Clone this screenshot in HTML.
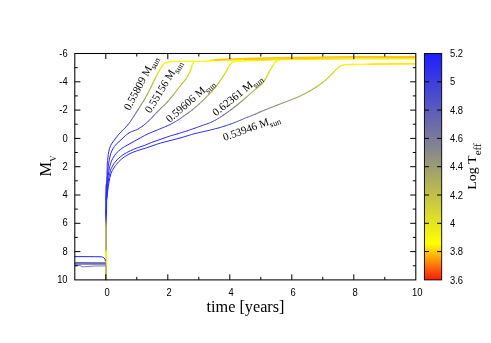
<!DOCTYPE html>
<html><head><meta charset="utf-8"><title>Light curves</title>
<style>
html,body{margin:0;padding:0;background:#fff;}
body{width:491px;height:343px;overflow:hidden;position:relative;font-family:"Liberation Sans",sans-serif;}
</style></head><body>
<svg width="491" height="343" viewBox="0 0 491 343" style="position:absolute;left:0;top:0;will-change:transform">
<defs><linearGradient id="cb" x1="0" y1="1" x2="0" y2="0">
<stop offset="0.0000" stop-color="rgb(252,25,12)"/>
<stop offset="0.1594" stop-color="rgb(255,255,0)"/>
<stop offset="0.5625" stop-color="rgb(138,138,138)"/>
<stop offset="1.0000" stop-color="rgb(30,30,255)"/>
</linearGradient></defs>
<g fill="none" stroke-width="1.90" stroke-linecap="round" stroke-linejoin="miter"><polyline points="106.1,279.5 106.1,270.4" stroke="rgb(176,176,93)" stroke-width="1.90"/><polyline points="106.1,270.4 106.1,265.8" stroke="rgb(183,183,85)" stroke-width="1.90"/><polyline points="106.1,265.8 106.1,264.3" stroke="rgb(198,198,67)" stroke-width="1.90"/><polyline points="106.1,264.3 106.1,250.5" stroke="rgb(236,236,22)" stroke-width="1.90"/><polyline points="106.1,250.5 106.1,249.0" stroke="rgb(206,206,58)" stroke-width="1.90"/><polyline points="106.1,249.0 106.1,226.2" stroke="rgb(168,168,102)" stroke-width="1.90"/><polyline points="106.1,226.2 106.1,224.6" stroke="rgb(161,161,111)" stroke-width="1.90"/><polyline points="106.1,224.6 106.1,223.1" stroke="rgb(153,153,120)" stroke-width="1.90"/><polyline points="106.1,223.1 106.1,221.6" stroke="rgb(138,138,138)" stroke-width="1.90"/><polyline points="106.1,221.6 106.1,220.1" stroke="rgb(119,119,159)" stroke-width="1.90"/><polyline points="106.1,220.1 106.1,218.5" stroke="rgb(106,106,173)" stroke-width="1.90"/><polyline points="106.1,218.5 106.1,217.0" stroke="rgb(93,93,187)" stroke-width="1.90"/><polyline points="106.1,217.0 106.1,215.5" stroke="rgb(80,80,201)" stroke-width="1.90"/><polyline points="106.1,215.5 106.1,214.0" stroke="rgb(67,67,215)" stroke-width="1.90"/><polyline points="106.1,214.0 106.1,212.4" stroke="rgb(54,54,229)" stroke-width="1.90"/><polyline points="106.1,212.4 106.1,210.9" stroke="rgb(48,48,235)" stroke-width="1.90"/><polyline points="106.1,210.9 106.2,197.2 106.5,185.0" stroke="rgb(42,42,242)" stroke-width="1.90"/></g>
<g fill="none" stroke-width="1.00" stroke-linecap="round" stroke-linejoin="miter"><polyline points="75.0,256.6 94.7,256.7 101.2,256.8 102.8,257.1 104.2,258.0 105.0,259.3 105.3,261.0" stroke="rgb(35,35,249)" stroke-width="1.00"/></g>
<g fill="none" stroke-width="1.05" stroke-linecap="round" stroke-linejoin="miter"><polyline points="75.0,262.5 105.5,262.7" stroke="rgb(99,99,180)" stroke-width="1.05"/></g>
<g fill="none" stroke-width="1.05" stroke-linecap="round" stroke-linejoin="miter"><polyline points="75.0,263.3 105.5,263.5" stroke="rgb(106,106,173)" stroke-width="1.05"/></g>
<g fill="none" stroke-width="1.05" stroke-linecap="round" stroke-linejoin="miter"><polyline points="75.0,264.1 105.5,264.3" stroke="rgb(106,106,173)" stroke-width="1.05"/></g>
<g fill="none" stroke-width="0.85" stroke-linecap="round" stroke-linejoin="miter"><polyline points="75.0,265.3 79.9,265.5 82.8,266.9 84.4,266.8 94.1,266.0 105.5,265.9" stroke="rgb(93,93,187)" stroke-width="0.85"/></g>
<g fill="none" stroke-width="1.00" stroke-linecap="round" stroke-linejoin="miter"><polyline points="106.3,200.0 106.5,187.9 107.0,175.7 107.2,165.1 107.6,160.5 108.3,154.5 108.8,151.5 109.5,148.6 110.6,145.7 112.0,143.1 115.7,138.2" stroke="rgb(42,42,242)" stroke-width="1.00"/><polyline points="115.7,138.2 119.5,133.5" stroke="rgb(48,48,235)" stroke-width="1.00"/><polyline points="119.5,133.5 122.7,130.2" stroke="rgb(54,54,229)" stroke-width="1.00"/><polyline points="122.7,130.2 125.9,127.0" stroke="rgb(61,61,222)" stroke-width="1.00"/><polyline points="125.9,127.0 126.9,125.8" stroke="rgb(67,67,215)" stroke-width="1.00"/><polyline points="126.9,125.8 127.9,124.7" stroke="rgb(74,74,208)" stroke-width="1.00"/><polyline points="127.9,124.7 129.8,122.3" stroke="rgb(80,80,201)" stroke-width="1.00"/><polyline points="129.8,122.3 130.7,121.1" stroke="rgb(87,87,194)" stroke-width="1.00"/><polyline points="130.7,121.1 131.5,119.8" stroke="rgb(93,93,187)" stroke-width="1.00"/><polyline points="131.5,119.8 133.2,117.3" stroke="rgb(99,99,180)" stroke-width="1.00"/><polyline points="133.2,117.3 134.0,116.0" stroke="rgb(106,106,173)" stroke-width="1.00"/><polyline points="134.0,116.0 134.8,114.7" stroke="rgb(112,112,166)" stroke-width="1.01"/><polyline points="134.8,114.7 135.6,113.4" stroke="rgb(119,119,159)" stroke-width="1.03"/><polyline points="135.6,113.4 136.4,112.1" stroke="rgb(125,125,152)" stroke-width="1.05"/><polyline points="136.4,112.1 138.1,109.6" stroke="rgb(132,132,145)" stroke-width="1.07"/><polyline points="138.1,109.6 139.7,107.0" stroke="rgb(138,138,138)" stroke-width="1.09"/><polyline points="139.7,107.0 141.3,104.5" stroke="rgb(146,146,129)" stroke-width="1.10"/><polyline points="141.3,104.5 143.8,100.6" stroke="rgb(153,153,120)" stroke-width="1.12"/><polyline points="143.8,100.6 145.3,98.0" stroke="rgb(161,161,111)" stroke-width="1.14"/><polyline points="145.3,98.0 147.5,94.0" stroke="rgb(168,168,102)" stroke-width="1.16"/><polyline points="147.5,94.0 149.5,89.9" stroke="rgb(176,176,93)" stroke-width="1.17"/><polyline points="149.5,89.9 150.9,87.2" stroke="rgb(183,183,85)" stroke-width="1.19"/><polyline points="150.9,87.2 152.9,83.1" stroke="rgb(191,191,76)" stroke-width="1.21"/><polyline points="152.9,83.1 154.9,79.0" stroke="rgb(198,198,67)" stroke-width="1.23"/><polyline points="154.9,79.0 156.3,76.3" stroke="rgb(206,206,58)" stroke-width="1.25"/><polyline points="156.3,76.3 158.4,72.3" stroke="rgb(214,214,49)" stroke-width="1.26"/><polyline points="158.4,72.3 159.9,69.6" stroke="rgb(221,221,40)" stroke-width="1.28"/><polyline points="159.9,69.6 161.5,67.0" stroke="rgb(229,229,31)" stroke-width="1.30"/><polyline points="161.5,67.0 162.4,65.7 163.4,64.6" stroke="rgb(236,236,22)" stroke-width="1.30"/><polyline points="163.4,64.6 164.5,63.6 165.8,62.8" stroke="rgb(244,244,13)" stroke-width="1.30"/><polyline points="165.8,62.8 167.2,62.2 168.7,62.0 171.7,61.7 182.4,61.4 193.0,61.3" stroke="rgb(251,251,4)" stroke-width="1.30"/></g>
<g fill="none" stroke-width="1.00" stroke-linecap="round" stroke-linejoin="miter"><polyline points="106.3,200.0 106.4,193.9 106.8,184.8 107.7,172.7 108.3,166.6 108.9,162.1 109.4,159.1 110.1,156.1 110.9,153.2 112.1,150.4 112.8,149.0 114.4,146.4 116.3,144.1 120.9,140.0 123.1,137.9" stroke="rgb(42,42,242)" stroke-width="1.00"/><polyline points="123.1,137.9 125.2,135.7 126.4,134.8 128.9,133.0" stroke="rgb(48,48,235)" stroke-width="1.00"/><polyline points="128.9,133.0 131.6,131.6 134.5,130.6" stroke="rgb(54,54,229)" stroke-width="1.00"/><polyline points="134.5,130.6 135.9,130.1 137.3,129.5 138.6,128.7" stroke="rgb(61,61,222)" stroke-width="1.00"/><polyline points="138.6,128.7 142.4,126.2" stroke="rgb(67,67,215)" stroke-width="1.00"/><polyline points="142.4,126.2 143.6,125.3" stroke="rgb(74,74,208)" stroke-width="1.00"/><polyline points="143.6,125.3 146.0,123.3" stroke="rgb(80,80,201)" stroke-width="1.00"/><polyline points="146.0,123.3 148.3,121.3" stroke="rgb(87,87,194)" stroke-width="1.00"/><polyline points="148.3,121.3 149.4,120.3" stroke="rgb(93,93,187)" stroke-width="1.00"/><polyline points="149.4,120.3 150.4,119.2" stroke="rgb(99,99,180)" stroke-width="1.00"/><polyline points="150.4,119.2 151.5,118.1" stroke="rgb(106,106,173)" stroke-width="1.00"/><polyline points="151.5,118.1 153.5,115.8" stroke="rgb(112,112,166)" stroke-width="1.01"/><polyline points="153.5,115.8 154.6,114.7" stroke="rgb(119,119,159)" stroke-width="1.03"/><polyline points="154.6,114.7 156.7,112.5" stroke="rgb(125,125,152)" stroke-width="1.05"/><polyline points="156.7,112.5 158.8,110.4" stroke="rgb(132,132,145)" stroke-width="1.07"/><polyline points="158.8,110.4 161.0,108.2" stroke="rgb(138,138,138)" stroke-width="1.09"/><polyline points="161.0,108.2 164.3,105.1" stroke="rgb(146,146,129)" stroke-width="1.10"/><polyline points="164.3,105.1 167.5,101.8" stroke="rgb(153,153,120)" stroke-width="1.12"/><polyline points="167.5,101.8 170.5,98.4" stroke="rgb(161,161,111)" stroke-width="1.14"/><polyline points="170.5,98.4 173.3,94.8" stroke="rgb(168,168,102)" stroke-width="1.16"/><polyline points="173.3,94.8 177.1,90.0" stroke="rgb(176,176,93)" stroke-width="1.17"/><polyline points="177.1,90.0 179.9,86.5" stroke="rgb(183,183,85)" stroke-width="1.19"/><polyline points="179.9,86.5 182.7,82.9" stroke="rgb(191,191,76)" stroke-width="1.21"/><polyline points="182.7,82.9 185.6,79.3" stroke="rgb(198,198,67)" stroke-width="1.23"/><polyline points="185.6,79.3 186.5,78.0 188.0,75.5" stroke="rgb(206,206,58)" stroke-width="1.25"/><polyline points="188.0,75.5 189.5,72.7" stroke="rgb(214,214,49)" stroke-width="1.26"/><polyline points="189.5,72.7 190.7,70.0" stroke="rgb(221,221,40)" stroke-width="1.28"/><polyline points="190.7,70.0 191.6,67.0" stroke="rgb(229,229,31)" stroke-width="1.30"/><polyline points="191.6,67.0 192.0,65.6" stroke="rgb(236,236,22)" stroke-width="1.30"/><polyline points="192.0,65.6 192.6,64.2 193.3,62.9" stroke="rgb(244,244,13)" stroke-width="1.30"/><polyline points="193.3,62.9 194.2,61.6" stroke="rgb(251,251,4)" stroke-width="1.30"/></g>
<g fill="none" stroke-width="1.00" stroke-linecap="round" stroke-linejoin="miter"><polyline points="106.4,200.0 106.8,192.4 107.5,183.4 108.2,175.8 108.8,171.3 109.7,166.8 110.5,163.9 111.5,161.0 112.8,158.3 114.4,155.7 116.2,153.3 118.4,151.2 120.8,149.2 122.0,148.3 124.5,146.7 139.1,138.6" stroke="rgb(42,42,242)" stroke-width="1.00"/><polyline points="139.1,138.6 144.4,135.6 148.5,133.6" stroke="rgb(48,48,235)" stroke-width="1.00"/><polyline points="148.5,133.6 155.5,130.7" stroke="rgb(54,54,229)" stroke-width="1.00"/><polyline points="155.5,130.7 161.1,128.4" stroke="rgb(61,61,222)" stroke-width="1.00"/><polyline points="161.1,128.4 166.7,126.1" stroke="rgb(67,67,215)" stroke-width="1.00"/><polyline points="166.7,126.1 169.5,124.8" stroke="rgb(74,74,208)" stroke-width="1.00"/><polyline points="169.5,124.8 172.2,123.4" stroke="rgb(80,80,201)" stroke-width="1.00"/><polyline points="172.2,123.4 174.8,122.0" stroke="rgb(87,87,194)" stroke-width="1.00"/><polyline points="174.8,122.0 177.4,120.4" stroke="rgb(93,93,187)" stroke-width="1.00"/><polyline points="177.4,120.4 180.0,118.8" stroke="rgb(99,99,180)" stroke-width="1.00"/><polyline points="180.0,118.8 181.2,117.9" stroke="rgb(106,106,173)" stroke-width="1.00"/><polyline points="181.2,117.9 183.7,116.2" stroke="rgb(112,112,166)" stroke-width="1.01"/><polyline points="183.7,116.2 186.2,114.4" stroke="rgb(119,119,159)" stroke-width="1.03"/><polyline points="186.2,114.4 188.7,112.7" stroke="rgb(125,125,152)" stroke-width="1.05"/><polyline points="188.7,112.7 192.3,109.9" stroke="rgb(132,132,145)" stroke-width="1.07"/><polyline points="192.3,109.9 195.8,106.9" stroke="rgb(138,138,138)" stroke-width="1.09"/><polyline points="195.8,106.9 199.2,103.9" stroke="rgb(146,146,129)" stroke-width="1.10"/><polyline points="199.2,103.9 202.5,100.8" stroke="rgb(153,153,120)" stroke-width="1.12"/><polyline points="202.5,100.8 205.8,97.7" stroke="rgb(161,161,111)" stroke-width="1.14"/><polyline points="205.8,97.7 209.0,94.4" stroke="rgb(168,168,102)" stroke-width="1.16"/><polyline points="209.0,94.4 212.0,91.1" stroke="rgb(176,176,93)" stroke-width="1.17"/><polyline points="212.0,91.1 214.9,87.6" stroke="rgb(183,183,85)" stroke-width="1.19"/><polyline points="214.9,87.6 218.7,82.8" stroke="rgb(191,191,76)" stroke-width="1.21"/><polyline points="218.7,82.8 220.4,80.3" stroke="rgb(198,198,67)" stroke-width="1.23"/><polyline points="220.4,80.3 223.0,76.6" stroke="rgb(206,206,58)" stroke-width="1.25"/><polyline points="223.0,76.6 225.5,72.7" stroke="rgb(214,214,49)" stroke-width="1.26"/><polyline points="225.5,72.7 226.9,70.1" stroke="rgb(221,221,40)" stroke-width="1.28"/><polyline points="226.9,70.1 228.4,67.4" stroke="rgb(229,229,31)" stroke-width="1.30"/><polyline points="228.4,67.4 230.1,64.8" stroke="rgb(236,236,22)" stroke-width="1.30"/><polyline points="230.1,64.8 231.0,63.6 232.0,62.6" stroke="rgb(244,244,13)" stroke-width="1.30"/><polyline points="232.0,62.6 233.3,61.9 234.8,61.3" stroke="rgb(251,251,4)" stroke-width="1.30"/></g>
<g fill="none" stroke-width="1.00" stroke-linecap="round" stroke-linejoin="miter"><polyline points="106.5,200.0 108.2,181.9 108.8,177.4 109.8,173.0 110.6,170.1 111.2,168.7 112.5,166.0 114.1,163.4 115.0,162.2 117.0,159.9 119.1,157.8 120.3,156.8 122.7,155.0 124.0,154.1 126.6,152.6 130.7,150.6 133.4,149.4 137.6,147.7 144.8,145.3 151.8,142.3 163.2,138.4" stroke="rgb(42,42,242)" stroke-width="1.00"/><polyline points="163.2,138.4 170.3,135.9 177.6,133.8" stroke="rgb(48,48,235)" stroke-width="1.00"/><polyline points="177.6,133.8 187.7,130.7" stroke="rgb(54,54,229)" stroke-width="1.00"/><polyline points="187.7,130.7 194.8,128.2" stroke="rgb(61,61,222)" stroke-width="1.00"/><polyline points="194.8,128.2 201.9,125.6" stroke="rgb(67,67,215)" stroke-width="1.00"/><polyline points="201.9,125.6 207.7,123.7" stroke="rgb(74,74,208)" stroke-width="1.00"/><polyline points="207.7,123.7 210.5,122.6 211.9,122.0" stroke="rgb(80,80,201)" stroke-width="1.00"/><polyline points="211.9,122.0 213.2,121.3" stroke="rgb(87,87,194)" stroke-width="1.00"/><polyline points="213.2,121.3 215.9,119.9" stroke="rgb(93,93,187)" stroke-width="1.00"/><polyline points="215.9,119.9 218.5,118.3" stroke="rgb(99,99,180)" stroke-width="1.00"/><polyline points="218.5,118.3 221.1,116.7" stroke="rgb(106,106,173)" stroke-width="1.00"/><polyline points="221.1,116.7 223.6,115.0" stroke="rgb(112,112,166)" stroke-width="1.01"/><polyline points="223.6,115.0 226.0,113.3" stroke="rgb(119,119,159)" stroke-width="1.03"/><polyline points="226.0,113.3 227.2,112.4" stroke="rgb(125,125,152)" stroke-width="1.05"/><polyline points="227.2,112.4 230.9,109.7" stroke="rgb(132,132,145)" stroke-width="1.07"/><polyline points="230.9,109.7 234.5,107.0" stroke="rgb(138,138,138)" stroke-width="1.09"/><polyline points="234.5,107.0 238.1,104.2" stroke="rgb(146,146,129)" stroke-width="1.10"/><polyline points="238.1,104.2 241.6,101.3" stroke="rgb(153,153,120)" stroke-width="1.12"/><polyline points="241.6,101.3 246.2,97.4" stroke="rgb(161,161,111)" stroke-width="1.14"/><polyline points="246.2,97.4 249.6,94.4" stroke="rgb(168,168,102)" stroke-width="1.16"/><polyline points="249.6,94.4 254.2,90.4" stroke="rgb(176,176,93)" stroke-width="1.17"/><polyline points="254.2,90.4 257.7,87.5" stroke="rgb(183,183,85)" stroke-width="1.19"/><polyline points="257.7,87.5 261.2,84.6 262.3,83.6" stroke="rgb(191,191,76)" stroke-width="1.21"/><polyline points="262.3,83.6 263.2,82.5 264.9,79.9" stroke="rgb(198,198,67)" stroke-width="1.23"/><polyline points="264.9,79.9 267.1,76.0" stroke="rgb(206,206,58)" stroke-width="1.25"/><polyline points="267.1,76.0 269.2,71.9" stroke="rgb(214,214,49)" stroke-width="1.26"/><polyline points="269.2,71.9 270.7,69.3" stroke="rgb(221,221,40)" stroke-width="1.28"/><polyline points="270.7,69.3 272.2,66.7" stroke="rgb(229,229,31)" stroke-width="1.30"/><polyline points="272.2,66.7 273.0,65.4" stroke="rgb(236,236,22)" stroke-width="1.30"/><polyline points="273.0,65.4 274.7,62.9" stroke="rgb(244,244,13)" stroke-width="1.30"/><polyline points="274.7,62.9 275.7,61.7 276.9,60.9 278.3,60.3 279.8,59.9" stroke="rgb(251,251,4)" stroke-width="1.30"/></g>
<g fill="none" stroke-width="1.00" stroke-linecap="round" stroke-linejoin="miter"><polyline points="106.6,200.0 108.3,186.5 109.0,182.0 109.9,177.6 111.1,173.3 112.3,170.5 113.0,169.2 115.5,165.4 118.5,161.9 121.8,158.8 124.2,157.0 128.0,154.6 132.1,152.6 136.3,151.0 139.2,150.0 146.4,147.9 156.4,144.4 160.7,143.0 181.2,137.7" stroke="rgb(42,42,242)" stroke-width="1.00"/><polyline points="181.2,137.7 191.3,134.6 195.6,133.4" stroke="rgb(48,48,235)" stroke-width="1.00"/><polyline points="195.6,133.4 208.9,130.4" stroke="rgb(54,54,229)" stroke-width="1.00"/><polyline points="208.9,130.4 219.1,127.8" stroke="rgb(61,61,222)" stroke-width="1.00"/><polyline points="219.1,127.8 224.9,126.0" stroke="rgb(67,67,215)" stroke-width="1.00"/><polyline points="224.9,126.0 230.6,124.1" stroke="rgb(74,74,208)" stroke-width="1.00"/><polyline points="230.6,124.1 234.8,122.5" stroke="rgb(80,80,201)" stroke-width="1.00"/><polyline points="234.8,122.5 237.6,121.4" stroke="rgb(87,87,194)" stroke-width="1.00"/><polyline points="237.6,121.4 241.8,119.6" stroke="rgb(93,93,187)" stroke-width="1.00"/><polyline points="241.8,119.6 244.6,118.4" stroke="rgb(99,99,180)" stroke-width="1.00"/><polyline points="244.6,118.4 247.4,117.3" stroke="rgb(106,106,173)" stroke-width="1.00"/><polyline points="247.4,117.3 251.6,115.6" stroke="rgb(112,112,166)" stroke-width="1.01"/><polyline points="251.6,115.6 255.8,113.9" stroke="rgb(119,119,159)" stroke-width="1.03"/><polyline points="255.8,113.9 259.9,112.1" stroke="rgb(125,125,152)" stroke-width="1.05"/><polyline points="259.9,112.1 265.5,109.7" stroke="rgb(132,132,145)" stroke-width="1.07"/><polyline points="265.5,109.7 271.1,107.4" stroke="rgb(138,138,138)" stroke-width="1.09"/><polyline points="271.1,107.4 278.1,104.7" stroke="rgb(146,146,129)" stroke-width="1.10"/><polyline points="278.1,104.7 286.6,101.5" stroke="rgb(153,153,120)" stroke-width="1.12"/><polyline points="286.6,101.5 295.0,98.3" stroke="rgb(161,161,111)" stroke-width="1.14"/><polyline points="295.0,98.3 299.2,96.5 303.3,94.5" stroke="rgb(168,168,102)" stroke-width="1.16"/><polyline points="303.3,94.5 306.0,93.1 309.9,90.9" stroke="rgb(176,176,93)" stroke-width="1.17"/><polyline points="309.9,90.9 316.3,86.9" stroke="rgb(183,183,85)" stroke-width="1.19"/><polyline points="316.3,86.9 321.3,83.4" stroke="rgb(191,191,76)" stroke-width="1.21"/><polyline points="321.3,83.4 323.7,81.6 326.0,79.7" stroke="rgb(198,198,67)" stroke-width="1.23"/><polyline points="326.0,79.7 329.3,76.6" stroke="rgb(206,206,58)" stroke-width="1.25"/><polyline points="329.3,76.6 333.5,72.3" stroke="rgb(214,214,49)" stroke-width="1.26"/><polyline points="333.5,72.3 335.6,70.1" stroke="rgb(221,221,40)" stroke-width="1.28"/><polyline points="335.6,70.1 339.1,67.1" stroke="rgb(229,229,31)" stroke-width="1.30"/><polyline points="339.1,67.1 340.3,66.2 341.6,65.7 343.1,65.2" stroke="rgb(236,236,22)" stroke-width="1.30"/><polyline points="343.1,65.2 344.6,64.9 346.1,64.7 352.1,64.5" stroke="rgb(244,244,13)" stroke-width="1.30"/><polyline points="352.1,64.5 373.2,64.1" stroke="rgb(251,251,4)" stroke-width="1.30"/><polyline points="373.2,64.1 415.5,63.5" stroke="rgb(255,235,1)" stroke-width="1.30"/></g>
<g fill="none" stroke-width="1.40" stroke-linecap="round" stroke-linejoin="miter"><polyline points="193.0,61.4 205.1,61.2 215.7,60.6" stroke="rgb(251,251,4)" stroke-width="1.40"/><polyline points="215.7,60.6 244.4,59.7" stroke="rgb(255,235,1)" stroke-width="1.40"/><polyline points="244.4,59.7 289.8,58.7 327.7,58.1 358.0,57.9 415.5,57.8" stroke="rgb(254,198,3)" stroke-width="1.40"/></g>
<g fill="none" stroke-width="1.50" stroke-linecap="round" stroke-linejoin="miter"><polyline points="210.0,60.2 214.5,59.7" stroke="rgb(255,235,1)" stroke-width="1.50"/><polyline points="214.5,59.7 223.6,59.2 246.2,58.5 276.4,57.8 300.6,57.4 350.5,56.8 415.5,56.7" stroke="rgb(254,198,3)" stroke-width="1.50"/></g>
<g fill="none" stroke-width="1.10" stroke-linecap="round" stroke-linejoin="miter"><polyline points="235.5,61.4 253.6,60.6" stroke="rgb(251,251,4)" stroke-width="1.10"/><polyline points="253.6,60.6 265.7,60.2 280.9,59.8 332.3,59.2 358.0,59.0 415.5,58.9" stroke="rgb(255,235,1)" stroke-width="1.10"/></g>
<g fill="none" stroke-width="1.60" stroke-linecap="round" stroke-linejoin="miter"><polyline points="368.0,64.3 391.7,64.0 415.5,63.8" stroke="rgb(255,235,1)" stroke-width="1.60"/></g>
<g stroke="#000" stroke-width="1.05" fill="none">
<rect x="74.8" y="53.5" width="341.0" height="226.4"/>
</g>
<path d="M105.8 279.9v-5.6 M105.8 53.5v5.6 M136.8 279.9v-3.0 M136.8 53.5v3.0 M167.8 279.9v-5.6 M167.8 53.5v5.6 M198.8 279.9v-3.0 M198.8 53.5v3.0 M229.8 279.9v-5.6 M229.8 53.5v5.6 M260.8 279.9v-3.0 M260.8 53.5v3.0 M291.8 279.9v-5.6 M291.8 53.5v5.6 M322.8 279.9v-3.0 M322.8 53.5v3.0 M353.8 279.9v-5.6 M353.8 53.5v5.6 M384.8 279.9v-3.0 M384.8 53.5v3.0 M74.8 67.7h3.0 M415.8 67.7h-3.0 M74.8 81.8h5.6 M415.8 81.8h-5.6 M74.8 95.9h3.0 M415.8 95.9h-3.0 M74.8 110.1h5.6 M415.8 110.1h-5.6 M74.8 124.2h3.0 M415.8 124.2h-3.0 M74.8 138.4h5.6 M415.8 138.4h-5.6 M74.8 152.5h3.0 M415.8 152.5h-3.0 M74.8 166.7h5.6 M415.8 166.7h-5.6 M74.8 180.8h3.0 M415.8 180.8h-3.0 M74.8 195.0h5.6 M415.8 195.0h-5.6 M74.8 209.1h3.0 M415.8 209.1h-3.0 M74.8 223.3h5.6 M415.8 223.3h-5.6 M74.8 237.4h3.0 M415.8 237.4h-3.0 M74.8 251.6h5.6 M415.8 251.6h-5.6 M74.8 265.8h3.0 M415.8 265.8h-3.0" stroke="#000" stroke-width="1" fill="none"/>
<rect x="424.4" y="53.5" width="17.3" height="226.4" fill="url(#cb)" stroke="#000" stroke-width="0.9"/>
<path d="M424.4 251.6h4.6 M441.7 251.6h-4.6 M424.4 223.3h4.6 M441.7 223.3h-4.6 M424.4 195.0h4.6 M441.7 195.0h-4.6 M424.4 166.7h4.6 M441.7 166.7h-4.6 M424.4 138.4h4.6 M441.7 138.4h-4.6 M424.4 110.1h4.6 M441.7 110.1h-4.6 M424.4 81.8h4.6 M441.7 81.8h-4.6" stroke="#000" stroke-width="1" fill="none"/>
<g font-family="Liberation Sans, sans-serif" font-size="9.4" fill="#000">
<text transform="translate(67.6,56.6) scale(1,1.08)" text-anchor="end">-6</text>
<text transform="translate(67.6,84.9) scale(1,1.08)" text-anchor="end">-4</text>
<text transform="translate(67.6,113.2) scale(1,1.08)" text-anchor="end">-2</text>
<text transform="translate(67.6,141.5) scale(1,1.08)" text-anchor="end">0</text>
<text transform="translate(67.6,169.8) scale(1,1.08)" text-anchor="end">2</text>
<text transform="translate(67.6,198.1) scale(1,1.08)" text-anchor="end">4</text>
<text transform="translate(67.6,226.4) scale(1,1.08)" text-anchor="end">6</text>
<text transform="translate(67.6,254.7) scale(1,1.08)" text-anchor="end">8</text>
<text transform="translate(67.6,283.0) scale(1,1.08)" text-anchor="end">10</text>
<text transform="translate(107.2,296.3) scale(1,1.08)" text-anchor="middle">0</text>
<text transform="translate(169.2,296.3) scale(1,1.08)" text-anchor="middle">2</text>
<text transform="translate(231.2,296.3) scale(1,1.08)" text-anchor="middle">4</text>
<text transform="translate(293.2,296.3) scale(1,1.08)" text-anchor="middle">6</text>
<text transform="translate(355.2,296.3) scale(1,1.08)" text-anchor="middle">8</text>
<text transform="translate(417.2,296.3) scale(1,1.08)" text-anchor="middle">10</text>
<text transform="translate(450.0,283.5) scale(1,1.08)">3.6</text>
<text transform="translate(450.0,255.2) scale(1,1.08)">3.8</text>
<text transform="translate(450.0,226.9) scale(1,1.08)">4</text>
<text transform="translate(450.0,198.6) scale(1,1.08)">4.2</text>
<text transform="translate(450.0,170.3) scale(1,1.08)">4.4</text>
<text transform="translate(450.0,142.0) scale(1,1.08)">4.6</text>
<text transform="translate(450.0,113.7) scale(1,1.08)">4.8</text>
<text transform="translate(450.0,85.4) scale(1,1.08)">5</text>
<text transform="translate(450.0,57.1) scale(1,1.08)">5.2</text>
</g>
<g font-family="Liberation Serif, serif" fill="#000">
<text transform="translate(245.5,311.6) scale(1,1.04)" font-size="16.25" text-anchor="middle">time [years]</text>
<text transform="translate(51.4,166) rotate(-90)" font-size="16.5" text-anchor="middle">M<tspan font-size="8.8" dy="4.6">V</tspan></text>
<text transform="translate(475.9,166.6) rotate(-90) scale(1.04,1)" font-size="13.5" text-anchor="middle">Log T<tspan font-size="10.5" dy="4.7">eff</tspan></text>
<text transform="translate(129.7,111.1) rotate(-62.2)" font-size="11.0">0.55809 M<tspan font-size="8.4" dy="3.1">sun</tspan></text>
<text transform="translate(150.6,113.7) rotate(-58.8)" font-size="11.0">0.55156 M<tspan font-size="8.4" dy="3.1">sun</tspan></text>
<text transform="translate(169.7,123.1) rotate(-41.2)" font-size="11.0">0.59606 M<tspan font-size="8.4" dy="3.1">sun</tspan></text>
<text transform="translate(216.1,116.5) rotate(-39.0)" font-size="11.0">0.62361 M<tspan font-size="8.4" dy="3.1">sun</tspan></text>
<text transform="translate(224.4,141.1) rotate(-20.0)" font-size="11.0">0.53946 M<tspan font-size="8.4" dy="3.1">sun</tspan></text>
</g>
</svg>
</body></html>
